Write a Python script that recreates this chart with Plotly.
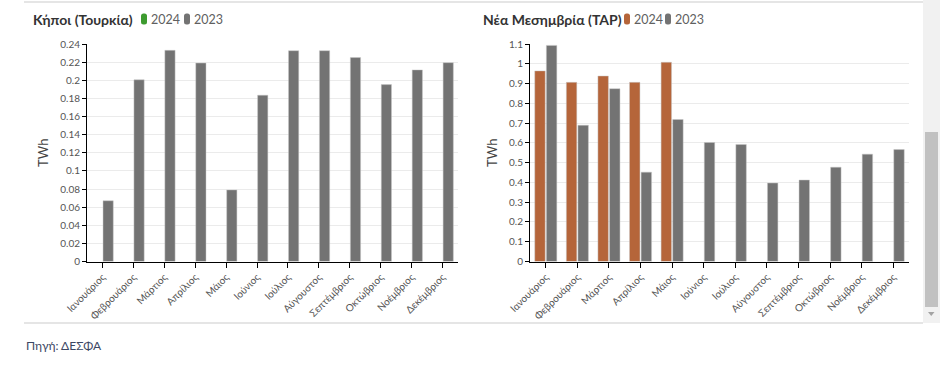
import plotly.graph_objects as go

W, H = 940, 365

months = ["Ιανουάριος", "Φεβρουάριος", "Μάρτιος", "Απρίλιος", "Μάιος", "Ιούνιος",
          "Ιούλιος", "Αύγουστος", "Σεπτέμβριος", "Οκτώβριος", "Νοέμβριος", "Δεκέμβριος"]

kipoi_2024 = [None, None, None, None, None, None, None, None, None, None, None, None]
kipoi_2023 = [0.067, 0.2005, 0.233, 0.219, 0.079, 0.1835, 0.2326, 0.2326, 0.225, 0.1952, 0.2114, 0.2194]

nm_2024 = [0.964, 0.906, 0.938, 0.906, 1.0075, None, None, None, None, None, None, None]
nm_2023 = [1.093, 0.689, 0.874, 0.452, 0.718, 0.602, 0.592, 0.397, 0.412, 0.477, 0.543, 0.566]

left_ticks = [0, 0.02, 0.04, 0.06, 0.08, 0.1, 0.12, 0.14, 0.16, 0.18, 0.2, 0.22, 0.24]
right_ticks = [0, 0.1, 0.2, 0.3, 0.4, 0.5, 0.6, 0.7, 0.8, 0.9, 1, 1.1]

left_title = "Κήποι (Τουρκία)"
right_title = "Νέα Μεσημβρία (TAP)"
series_names = ["2024", "2023"]
source_text = "Πηγή: ΔΕΣΦΑ"

GREEN = "#3d9b2f"
ORANGE = "#b5653a"
GRAY = "#737373"
FONT = "Lato, 'Source Sans Pro', sans-serif"


def px(x):
    return x / W


def py(y):
    return 1 - y / H


fig = go.Figure()

bar_line = dict(color="rgba(200,200,200,0.8)", width=0.6)
fig.add_trace(go.Bar(x=months, y=kipoi_2024, name=series_names[0], marker=dict(color=GREEN, line=bar_line),
                     xaxis="x", yaxis="y", showlegend=False))
fig.add_trace(go.Bar(x=months, y=kipoi_2023, name=series_names[1], marker=dict(color=GRAY, line=bar_line),
                     xaxis="x", yaxis="y", showlegend=False))
fig.add_trace(go.Bar(x=months, y=nm_2024, name=series_names[0], marker=dict(color=ORANGE, line=bar_line),
                     xaxis="x2", yaxis="y2", showlegend=False))
fig.add_trace(go.Bar(x=months, y=nm_2023, name=series_names[1], marker=dict(color=GRAY, line=bar_line),
                     xaxis="x2", yaxis="y2", showlegend=False))

ydom = [py(261.5), py(44)]
xaxis_common = dict(showline=True, linecolor="#000", linewidth=1, ticks="outside", ticklen=5,
                    tickcolor="#000", tickangle=-45, tickfont=dict(size=10, color="#555", family=FONT),
                    showgrid=False, zeroline=False, automargin=False)
yaxis_common = dict(showline=True, linecolor="#000", linewidth=1, ticks="outside", ticklen=4,
                    tickcolor="#000", tickfont=dict(size=10, color="#555", family=FONT),
                    showgrid=True, gridcolor="#ebebeb", gridwidth=1, zeroline=False, automargin=False,
                    title=dict(text="TWh", font=dict(size=13, color="#444", family=FONT), standoff=8))

fig.update_layout(
    template="none",
    width=W, height=H,
    margin=dict(l=0, r=0, t=0, b=0, pad=0),
    paper_bgcolor="white", plot_bgcolor="white",
    barmode="group", bargap=0.265, bargroupgap=0.1,
    font=dict(family=FONT, color="#555"),
    xaxis=dict(domain=[px(87), px(458)], anchor="y", **xaxis_common),
    yaxis=dict(domain=ydom, anchor="x", range=[0, 0.24], tickvals=left_ticks, **yaxis_common),
    xaxis2=dict(domain=[px(530), px(909)], anchor="y2", **xaxis_common),
    yaxis2=dict(domain=ydom, anchor="x2", range=[0, 1.1], tickvals=right_ticks, **yaxis_common),
)

annotations = []
shapes = []


def header(x0, title, items):
    annotations.append(dict(x=px(x0), y=py(19), xref="paper", yref="paper", xanchor="left", yanchor="middle",
                            text="<b>" + title + "</b>", showarrow=False,
                            font=dict(size=14, color="#333", family=FONT)))
    for (mx, color, label) in items:
        x0s, x1s, y0s, y1s = mx, mx + 6, 13.5, 24.5
        r = 2.5
        path = (f"M {px(x0s + r)} {py(y0s)} L {px(x1s - r)} {py(y0s)} Q {px(x1s)} {py(y0s)} {px(x1s)} {py(y0s + r)} "
                f"L {px(x1s)} {py(y1s - r)} Q {px(x1s)} {py(y1s)} {px(x1s - r)} {py(y1s)} "
                f"L {px(x0s + r)} {py(y1s)} Q {px(x0s)} {py(y1s)} {px(x0s)} {py(y1s - r)} "
                f"L {px(x0s)} {py(y0s + r)} Q {px(x0s)} {py(y0s)} {px(x0s + r)} {py(y0s)} Z")
        shapes.append(dict(type="path", path=path, xref="paper", yref="paper", fillcolor=color,
                           line=dict(width=0)))
        annotations.append(dict(x=px(mx + 7.5), y=py(19), xref="paper", yref="paper", xanchor="left",
                                yanchor="middle", text=label, showarrow=False,
                                font=dict(size=12.5, color="#606060", family=FONT)))


header(31, left_title, [(141, GREEN, series_names[0]), (184, GRAY, series_names[1])])
header(481, right_title, [(624, ORANGE, series_names[0]), (665, GRAY, series_names[1])])

annotations.append(dict(x=px(24), y=py(345), xref="paper", yref="paper", xanchor="left", yanchor="middle",
                        text=source_text, showarrow=False, font=dict(size=12, color="#3b4763", family=FONT)))

# frame lines
shapes.append(dict(type="line", xref="paper", yref="paper", x0=px(24), x1=px(923), y0=py(2), y1=py(2),
                   line=dict(color="#dddddd", width=1.5)))
shapes.append(dict(type="line", xref="paper", yref="paper", x0=px(24), x1=px(923), y0=py(323), y1=py(323),
                   line=dict(color="#dddddd", width=1.5)))
# scrollbar
shapes.append(dict(type="rect", xref="paper", yref="paper", x0=px(923), x1=px(940), y0=py(0), y1=py(323),
                   fillcolor="#f1f1f1", line=dict(width=0), layer="below"))
shapes.append(dict(type="rect", xref="paper", yref="paper", x0=px(925), x1=px(938), y0=py(132), y1=py(307),
                   fillcolor="#c1c1c1", line=dict(width=0)))
shapes.append(dict(type="path", xref="paper", yref="paper",
                   path=f"M {px(928)} {py(312)} L {px(934.5)} {py(312)} L {px(931.25)} {py(316)} Z",
                   fillcolor="#a3a3a3", line=dict(width=0)))

fig.update_layout(annotations=annotations, shapes=shapes)

fig.write_html("out.html", config={"displayModeBar": False},
               post_script="document.body.style.margin='0px';document.body.style.overflow='hidden';")
